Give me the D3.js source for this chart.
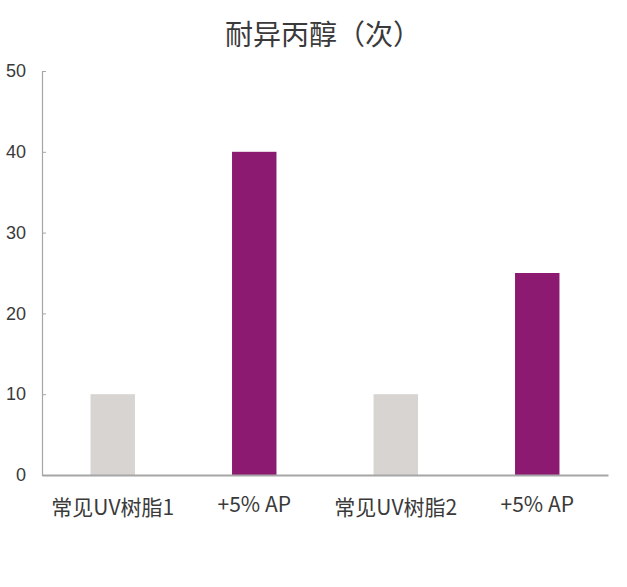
<!DOCTYPE html>
<html><head><meta charset="utf-8">
<script src="https://cdn.jsdelivr.net/npm/d3@7"></script>
<style>body{margin:0;background:#fff}svg{display:block}text{font-family:"Noto Sans CJK SC","Microsoft YaHei",sans-serif}</style>
</head><body>
<script>
const title = "耐异丙醇（次）";
const categories = ["常见UV树脂1", "+5% AP", "常见UV树脂2", "+5% AP "];
const values = [10, 40, 10, 25];
const barColors = ["#d8d4d1", "#8c1a70", "#d8d4d1", "#8c1a70"];
const yTicks = [0, 10, 20, 30, 40, 50];

const W = 627, H = 587;
const m = {left: 42, right: 19, top: 71, bottom: 112};
const svg = d3.select("body").append("svg").attr("width", W).attr("height", H);

const x = d3.scaleBand().domain(categories).range([m.left, W - m.right]).paddingInner(0.686).paddingOuter(0.343);
const y = d3.scaleLinear().domain([0, 50]).range([H - m.bottom, m.top]);

svg.append("text").attr("x", 323).attr("y", 45).attr("text-anchor", "middle")
  .attr("font-size", 28).attr("fill", "#3a3a3a").text(title);

svg.selectAll("rect.bar").data(values).join("rect").attr("class", "bar")
  .attr("x", (d, i) => x(categories[i])).attr("width", x.bandwidth())
  .attr("y", d => y(d)).attr("height", d => y(0) - y(d))
  .attr("fill", (d, i) => barColors[i]);

const yAxis = svg.append("g").attr("transform", `translate(${m.left},0)`)
  .call(d3.axisRight(y).tickValues(yTicks).tickSize(4).tickFormat(d3.format("d")));
yAxis.select(".domain").attr("stroke", "#a6a6a6").attr("stroke-width", 1.2);
yAxis.selectAll(".tick line").attr("stroke", "#a6a6a6");
yAxis.selectAll(".tick text").attr("x", -16).attr("text-anchor", "end")
  .attr("font-size", 18).attr("fill", "#3a3a3a").style("font-family", "'Liberation Sans', Arial, sans-serif");

const xAxis = svg.append("g").attr("transform", `translate(0,${y(0)})`)
  .call(d3.axisBottom(x).tickSize(0).tickSizeOuter(0));
xAxis.select(".domain").attr("stroke", "#a6a6a6").attr("stroke-width", 2);
xAxis.selectAll(".tick text").attr("y", 0).attr("dy", 0)
  .attr("transform", (d, i) => `translate(0,${i % 2 ? 37 : 40})`)
  .attr("font-size", 21).attr("fill", "#3a3a3a").text(d => d.trim());
</script>
</body></html>
